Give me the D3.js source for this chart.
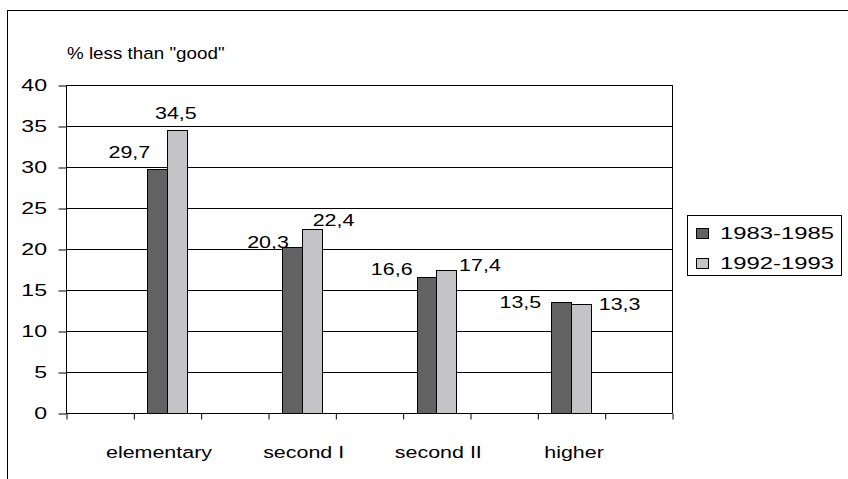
<!DOCTYPE html>
<html>
<head>
<meta charset="utf-8">
<script src="https://cdn.jsdelivr.net/npm/d3@7"></script>
<style>
  html, body { margin: 0; padding: 0; background: #fff; }
  svg { display: block; }
  text { font-family: "Liberation Sans", Arial, sans-serif; fill: #000; }
</style>
</head>
<body>
<svg id="chart" width="848" height="479"></svg>
<script>
// Share of respondents rating below "good", by education level
const categories = ["elementary", "second I", "second II", "higher"];
const seriesNames = ["1983-1985", "1992-1993"];
const values1983 = [29.7, 20.3, 16.6, 13.5];
const values1992 = [34.5, 22.4, 17.4, 13.3];
const yTickValues = [0, 5, 10, 15, 20, 25, 30, 35, 40];
const axisTitle = '% less than "good"';

const seriesColors = ["#626262", "#c4c4c6"];
const seriesValues = [values1983, values1992];

const svg = d3.select("#chart");
const W = 848, H = 479;

// outer frame (runs off the right and bottom edges)
svg.append("rect")
  .attr("x", 7.5).attr("y", 10.5)
  .attr("width", W + 10).attr("height", H + 10)
  .attr("fill", "none").attr("stroke", "#000").attr("stroke-width", 1);

const plot = { left: 66, right: 672, top: 85, bottom: 413 };

// categories sit in every other slot, with empty slots between them
const slotCount = categories.length * 2 + 1;
const slotOf = i => 2 * i + 1;
const xSlot = d3.scaleBand().domain(d3.range(slotCount)).range([plot.left, plot.right]);
const xEdge = d3.scaleLinear().domain([0, slotCount]).range([plot.left, plot.right]);
const groupWidth = 39.5;
const xSeries = d3.scaleBand().domain(seriesNames).range([0, groupWidth]);
const y = d3.scaleLinear().domain([0, 40]).range([plot.bottom, plot.top]);

// draws a text horizontally widened by sx around its anchor
function wideText(g, x, yy, str, size, sx, anchor) {
  return g.append("text")
    .attr("transform", `translate(${x},${yy}) scale(${sx},1)`)
    .attr("text-anchor", anchor || "start")
    .attr("font-size", size)
    .text(str);
}

// gridlines
svg.append("g").selectAll("line").data(yTickValues.filter(v => v > 0)).join("line")
  .attr("x1", plot.left).attr("x2", plot.right)
  .attr("y1", d => Math.round(y(d)) + 0.5).attr("y2", d => Math.round(y(d)) + 0.5)
  .attr("stroke", "#000").attr("stroke-width", 1);

// right edge of plot area
svg.append("line")
  .attr("x1", plot.right + 0.5).attr("x2", plot.right + 0.5)
  .attr("y1", plot.top).attr("y2", plot.bottom)
  .attr("stroke", "#000");

// bars
const barG = svg.append("g");
const groupLeft = i => xSlot(slotOf(i)) + (xSlot.bandwidth() - groupWidth) / 2;
categories.forEach((c, i) => {
  const x0 = groupLeft(i);
  seriesNames.forEach((s, k) => {
    const v = seriesValues[k][i];
    barG.append("rect")
      .attr("x", Math.round(x0 + xSeries(s)) + 0.5)
      .attr("y", Math.round(y(v)) + 0.5)
      .attr("width", Math.round(xSeries.bandwidth()))
      .attr("height", Math.round(y(0)) - Math.round(y(v)))
      .attr("fill", seriesColors[k])
      .attr("stroke", "#000").attr("stroke-width", 1);
  });
});

// y axis
const yAxis = d3.axisLeft(y).tickValues(yTickValues).tickSize(8).tickFormat("");
const yAxisG = svg.append("g").attr("transform", `translate(${plot.left + 0.5},0.5)`).call(yAxis);
yAxisG.select(".domain").attr("d", `M0,${plot.top}V${Math.round(y(0))}`);
yTickValues.forEach(v => {
  wideText(svg, 47, y(v) + 6, String(v), 16.5, 1.4, "end");
});

// x axis with ticks at slot boundaries
const xAxis = d3.axisBottom(xEdge).tickValues(d3.range(slotCount + 1)).tickSize(6).tickFormat("");
const xAxisG = svg.append("g").attr("transform", `translate(0.5,${Math.round(y(0)) + 0.5})`).call(xAxis);
xAxisG.select(".domain").attr("d", `M${plot.left},0H${plot.right}`);
svg.selectAll(".tick line").attr("stroke", "#000");
svg.selectAll(".domain").attr("stroke", "#000");

// category names under their bar pairs
const catShift = [-8, 2, 2, 3];
categories.forEach((c, i) => {
  wideText(svg, xSlot(slotOf(i)) + xSlot.bandwidth() / 2 + catShift[i], 458, c, 16.5, 1.3, "middle");
});

// axis title
wideText(svg, 67, 59, axisTitle, 16.5, 1.14, "start");

// value labels, placed beside / above their bars
const fmt = v => String(v).replace(".", ",");
const labelPlace = [
  [{ dx: 3, dy: -11, a: "end" }, { dx: -1, dy: -11, a: "middle" }],
  [{ dx: 7, dy: 1, a: "end" }, { dx: 11, dy: -3, a: "left" }],
  [{ dx: -4, dy: -2, a: "end" }, { dx: 3, dy: 1, a: "start" }],
  [{ dx: -10, dy: 6, a: "end" }, { dx: 8, dy: 6, a: "start" }]
];
categories.forEach((c, i) => {
  const x0 = groupLeft(i);
  seriesNames.forEach((s, k) => {
    const v = seriesValues[k][i];
    const p = labelPlace[i][k];
    const bx = x0 + xSeries(s);
    const bw = xSeries.bandwidth();
    let ax, anchor = p.a;
    if (p.a === "end") ax = bx + p.dx;
    else if (p.a === "start") ax = bx + bw + p.dx;
    else if (p.a === "left") { ax = bx + p.dx; anchor = "start"; }
    else ax = bx + bw / 2 + p.dx;
    wideText(svg, ax, y(v) + p.dy, fmt(v), 16.5, 1.3, anchor);
  });
});

// legend
const lg = svg.append("g");
lg.append("rect").attr("x", 687.5).attr("y", 215.5).attr("width", 154).attr("height", 60)
  .attr("fill", "#fff").attr("stroke", "#000");
seriesNames.forEach((s, k) => {
  const ly = 228 + k * 30;
  lg.append("rect").attr("x", 696.5).attr("y", ly + 0.5).attr("width", 12).attr("height", 10)
    .attr("fill", seriesColors[k]).attr("stroke", "#000");
  wideText(lg, 720, ly + 11, s, 16.5, 1.445, "start");
});
</script>
</body>
</html>
